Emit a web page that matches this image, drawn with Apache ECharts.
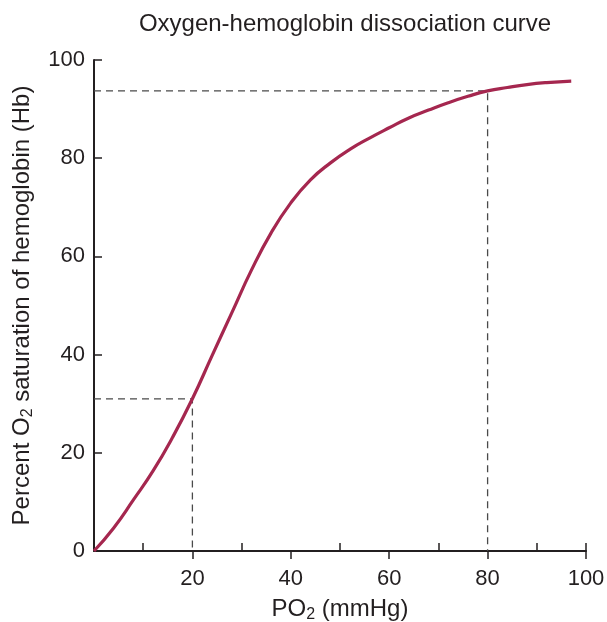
<!DOCTYPE html>
<html>
<head>
<meta charset="utf-8">
<script src="https://cdn.jsdelivr.net/npm/echarts@6/dist/echarts.min.js"></script>
<style>
html,body{margin:0;padding:0;background:#fff;}
#chart{width:607px;height:622px;}
</style>
</head>
<body>
<div id="chart"></div>
<script>
// PO2 (mmHg) and % saturation
const po2 = [0, 4, 8, 12, 16, 20, 24, 28, 32, 36, 40, 44, 48, 52, 56, 60, 64, 68, 72, 76, 80, 84, 88, 92, 97];
const saturation = [0, 4.7, 10.4, 16.3, 23.2, 31, 39.8, 48.5, 57.2, 64.8, 70.9, 75.6, 79.0, 81.8, 84.1, 86.2, 88.2, 89.8, 91.3, 92.6, 93.7, 94.4, 95, 95.4, 95.7];
// Reference (dashed) guides: [PO2, saturation]
const guideLowX = [0, 20, 20];
const guideLowY = [31, 31, 0];
const guideHighX = [0, 80, 80];
const guideHighY = [93.7, 93.7, 0];
// Axis ticks
const xMajorTicks = [20, 40, 60, 80, 100];
const xMinorTicks = [10, 30, 50, 70, 90, 100];
const yTicks = [0, 20, 40, 60, 80, 100];

const FONT = '"Liberation Sans", Arial, Helvetica, sans-serif';
const INK = '#231f20';

const pairs = (xs, ys) => xs.map((x, i) => [x, ys[i]]);

const chart = echarts.init(document.getElementById('chart'), null, {renderer: 'canvas'});
chart.setOption({
  animation: false,
  backgroundColor: '#fff',
  title: {
    text: 'Oxygen-hemoglobin dissociation curve',
    left: 340,
    textAlign: 'center',
    top: 7,
    textStyle: {fontFamily: FONT, fontSize: 24, fontWeight: 'normal', color: INK}
  },
  grid: {left: 94, right: 21, top: 60, bottom: 71, containLabel: false, outerBoundsMode: 'none'},
  xAxis: [{
    type: 'value', min: 0, max: 100, interval: 20,
    splitLine: {show: false},
    axisLine: {show: true, lineStyle: {color: INK, width: 2}},
    axisTick: {show: true, inside: false, length: 8, lineStyle: {color: INK, width: 1.5}, customValues: xMajorTicks},
    axisLabel: {fontFamily: FONT, fontSize: 22, color: INK, margin: 17, customValues: xMajorTicks},
    name: 'PO{sub|2} (mmHg)',
    nameLocation: 'middle',
    nameGap: 45,
    nameTextStyle: {fontFamily: FONT, fontSize: 24, color: INK,
      rich: {sub: {fontFamily: FONT, fontSize: 16, color: INK, padding: [11, 0, 0, 0]}}}
  }, {
    type: 'value', min: 0, max: 100, interval: 10, position: 'bottom',
    gridIndex: 0,
    splitLine: {show: false},
    axisLine: {show: false},
    axisLabel: {show: false},
    axisTick: {show: true, inside: true, length: 8, lineStyle: {color: INK, width: 1.5}, customValues: xMinorTicks}
  }],
  yAxis: {
    type: 'value', min: 0, max: 100, interval: 20,
    splitLine: {show: false},
    axisLine: {show: true, lineStyle: {color: INK, width: 2}},
    axisTick: {show: true, inside: true, length: 8, lineStyle: {color: INK, width: 1.5}},
    axisLabel: {fontFamily: FONT, fontSize: 22, color: INK, margin: 9, customValues: yTicks},
    name: 'Percent O{sub|2} saturation of hemoglobin (Hb)',
    nameLocation: 'middle',
    nameGap: 58,
    nameTextStyle: {fontFamily: FONT, fontSize: 24, color: INK,
      rich: {sub: {fontFamily: FONT, fontSize: 16, color: INK, padding: [11, 0, 0, 0]}}}
  },
  series: [{
    type: 'line', data: pairs(guideLowX, guideLowY), symbol: 'none', silent: true, z: 1,
    lineStyle: {color: '#4a4a4a', width: 1.3, type: [7, 5]}
  }, {
    type: 'line', data: pairs(guideHighX, guideHighY), symbol: 'none', silent: true, z: 1,
    lineStyle: {color: '#4a4a4a', width: 1.3, type: [7, 5]}
  }, {
    type: 'line', data: pairs(po2, saturation), symbol: 'none', smooth: 0.5, z: 3,
    lineStyle: {color: '#a5274f', width: 3.2}
  }]
});
</script>
</body>
</html>
